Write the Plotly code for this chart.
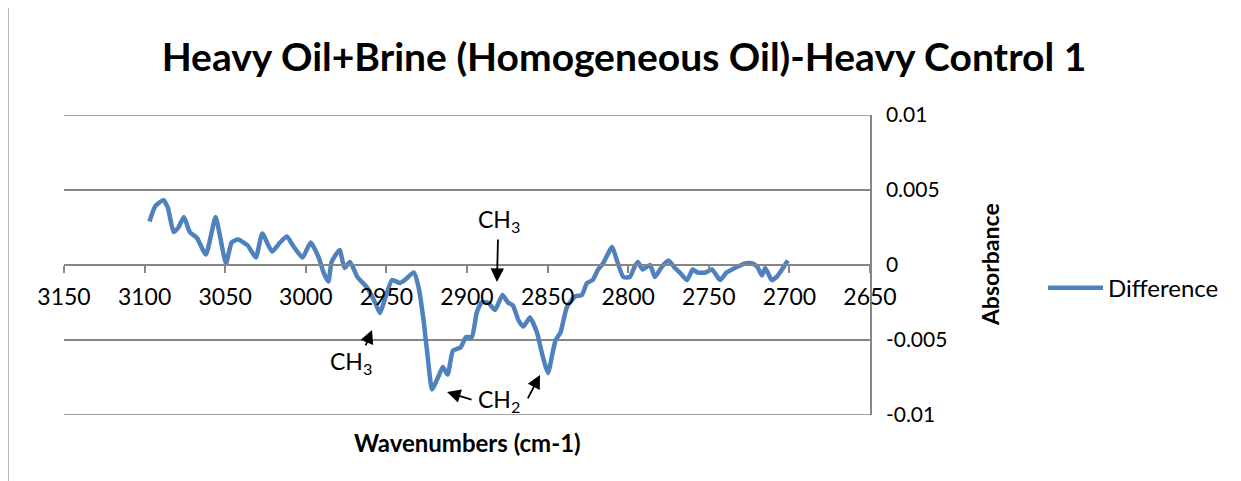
import plotly.graph_objects as go

wavenumber = [3097, 3093.5, 3089, 3088, 3085.5, 3082, 3079, 3075.6, 3072, 3067.5,
              3062, 3056, 3053, 3049.5, 3046, 3042, 3036, 3031, 3027, 3021,
              3016, 3011.7, 3008, 3002, 2997, 2992, 2989, 2986, 2984, 2979,
              2976, 2972.6, 2968, 2962, 2957, 2954, 2951, 2946.5, 2941.6, 2938.5,
              2933, 2930, 2926.7, 2924, 2921.7, 2918, 2915, 2912, 2908.7, 2904,
              2900.6, 2897, 2894, 2891, 2887, 2882.6, 2878, 2874.6, 2871.5, 2868,
              2865, 2861, 2856.6, 2853, 2849.7, 2847, 2845, 2842, 2838, 2833,
              2828.7, 2825.6, 2822, 2818.7, 2815.6, 2810, 2807, 2803, 2799, 2796,
              2794, 2791, 2786.5, 2783.4, 2779, 2775, 2771, 2768, 2763.5, 2760,
              2757, 2752, 2748, 2743, 2739, 2735.6, 2732, 2727.5, 2723, 2720,
              2717, 2715, 2711, 2708, 2704.6, 2701]
absorbance = [0.0029, 0.0039, 0.0043, 0.0043, 0.0038, 0.0022, 0.0025, 0.0032, 0.0022, 0.0018,
              0.0007, 0.0032, 0.0018, 0.0001, 0.0015, 0.0017, 0.0013, 0.0005, 0.0021, 0.0009,
              0.0015, 0.0019, 0.0013, 0.0005, 0.0015, 0.0005, -0.0005, -0.0011, 0.0002, 0.0010,
              -0.0002, 0.0002, -0.0008, -0.0015, -0.0025, -0.0032, -0.0023, -0.0010, -0.0012, -0.0010,
              -0.0005, -0.0015, -0.0039, -0.0065, -0.0083, -0.0075, -0.0068, -0.0073, -0.0057, -0.0055,
              -0.0048, -0.0048, -0.0032, -0.0025, -0.0025, -0.0030, -0.0020, -0.0025, -0.0027, -0.0037,
              -0.0041, -0.0035, -0.0045, -0.0061, -0.0072, -0.0059, -0.0050, -0.0045, -0.0028, -0.0021,
              -0.0020, -0.0012, -0.0010, -0.0003, 0.0001, 0.0012, 0.0003, -0.0008, -0.0008, -0.0001,
              0.0002, -0.0003, 0.0000, -0.0008, -0.0001, 0.0003, -0.0002, -0.0005, -0.0010, -0.0003,
              -0.0005, -0.0005, -0.0003, -0.0010, -0.0005, -0.0003, -0.0001, 0.0001, 0.0001, -0.0001,
              -0.0007, -0.0002, -0.0010, -0.0008, -0.0003, 0.0003]

x_ticks = [3150, 3100, 3050, 3000, 2950, 2900, 2850, 2800, 2750, 2700, 2650]
y_ticks = [-0.01, -0.005, 0, 0.005, 0.01]
y_tick_text = ["-0.01", "-0.005", "0", "0.005", "0.01"]

# annotation labels: (text, x, y)
labels = [("CH<sub>3</sub>", 2880.1, 0.0030),
          ("CH<sub>3</sub>", 2971.9, -0.00653),
          ("CH<sub>2</sub>", 2880.1, -0.0090)]
# arrows: (tip x, tip y, tail dx px, tail dy px)
arrows = [(2881.4, -0.00113, 1, -44),
          (2958.9, -0.00433, -7, 17),
          (2912.4, -0.00847, 26, 8),
          (2854.7, -0.00733, -13, 25)]

FONT = "Lato"
GRID = "#868686"

fig = go.Figure()
fig.add_trace(go.Scatter(x=wavenumber, y=absorbance, mode="lines", name="Difference",
                         line=dict(color="#4F81BD", width=4.5, shape="spline", smoothing=0.5)))

for text, x, y in labels:
    fig.add_annotation(x=x, y=y, text=text, showarrow=False,
                       font=dict(family=FONT, size=23, color="#000000"))
for tx, ty, dx, dy in arrows:
    fig.add_annotation(x=tx, y=ty, ax=dx, ay=dy, text="", showarrow=True,
                       arrowhead=2, arrowsize=1.5, arrowwidth=1.8, arrowcolor="#000000")

# outer gridlines at the top and bottom of the value range
for yv in (y_ticks[0], y_ticks[-1]):
    fig.add_shape(type="line", xref="paper", yref="y", x0=0, x1=1, y0=yv, y1=yv,
                  line=dict(color=GRID, width=1.5), layer="below")

fig.add_shape(type="line", xref="paper", yref="paper", x0=-0.0695, x1=-0.0695, y0=-0.3, y1=1.5,
              line=dict(color="#A0A0A0", width=1.5))

fig.update_layout(
    width=1233, height=473,
    margin=dict(l=56, r=371, t=107, b=66),
    paper_bgcolor="white", plot_bgcolor="white",
    title=dict(text="<b>Heavy Oil+Brine (Homogeneous Oil)-Heavy Control 1</b>",
               x=0.4996, xref="container", xanchor="center",
               y=0.896, yanchor="middle",
               font=dict(family=FONT, size=39, color="#000000")),
    font=dict(family=FONT, color="#000000"),
    showlegend=True,
    legend=dict(x=1.2146, y=0.423, xanchor="left", yanchor="middle", itemwidth=55,
                font=dict(family=FONT, size=24, color="#000000"),
                bgcolor="rgba(0,0,0,0)"),
    xaxis=dict(range=[3150, 2650], tickvals=x_ticks, ticktext=[str(v) for v in x_ticks],
               anchor="free", position=0.5, showgrid=False, zeroline=False,
               showline=True, linecolor=GRID, linewidth=1.5,
               ticks="outside", ticklen=7, tickcolor=GRID, tickwidth=1.5,
               ticklabelstandoff=5,
               tickfont=dict(family=FONT, size=23, color="#000000")),
    xaxis2=dict(range=[3150, 2650], overlaying="x", anchor="free", position=0.5,
                tickvals=x_ticks, showticklabels=False, showgrid=False, zeroline=False,
                showline=False, ticks="inside", ticklen=7, tickcolor=GRID, tickwidth=1.5),
    yaxis=dict(range=[-0.01, 0.01], tickvals=y_ticks, ticktext=y_tick_text,
               side="right", showgrid=True, gridcolor=GRID, gridwidth=1.5,
               zeroline=False, showline=True, linecolor=GRID, linewidth=1.5,
               ticks="", ticklabelstandoff=10,
               tickfont=dict(family=FONT, size=21, color="#000000")),
)
fig.add_annotation(x=0.5, xref="paper", y=0.0, yref="paper", yshift=-27,
                   text="<b>Wavenumbers (cm-1)</b>", showarrow=False, yanchor="middle",
                   font=dict(family=FONT, size=24, color="#000000"))
fig.add_annotation(x=1.149, xref="paper", y=0.5, yref="paper", textangle=-90,
                   text="<b>Absorbance</b>", showarrow=False, xanchor="center", yanchor="middle",
                   font=dict(family=FONT, size=23, color="#000000"))

fig.write_html("out.html")
